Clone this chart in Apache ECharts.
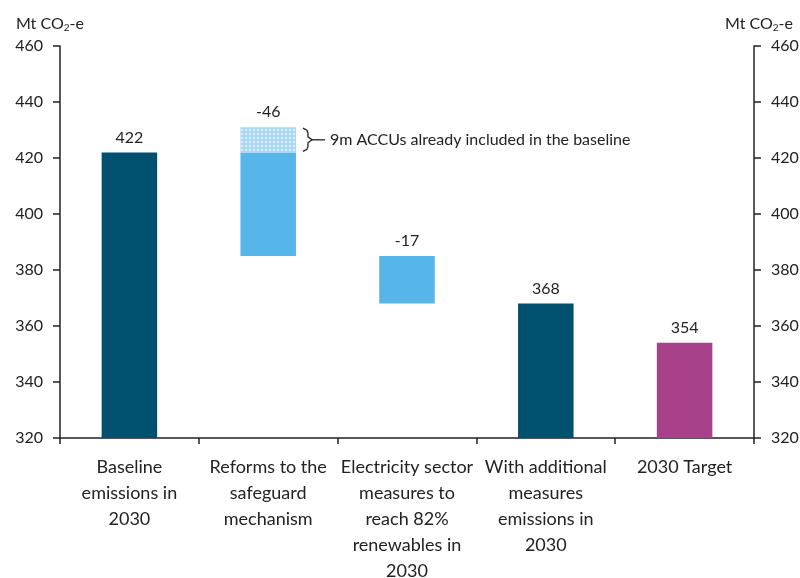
<!DOCTYPE html>
<html>
<head>
<meta charset="utf-8">
<script src="https://cdn.jsdelivr.net/npm/echarts@6/dist/echarts.min.js"></script>
<style>
  html, body { margin: 0; padding: 0; background: #fff; }
  #chart { width: 800px; height: 578px; }
</style>
</head>
<body>
<div id="chart"></div>
<script>
// values (Mt CO2-e)
const categories = [
  'Baseline\nemissions in\n2030',
  'Reforms to the\nsafeguard\nmechanism',
  'Electricity sector\nmeasures to\nreach 82%\nrenewables in\n2030',
  'With additional\nmeasures\nemissions in\n2030',
  '2030 Target'
]
const baseline = 422
const safeguardCut = 46
const accuIncluded = 9
const electricityCut = 17
const withMeasures = 368
const target = 354
const yTicks = [320, 340, 360, 380, 400, 420, 440, 460]
const accuNote = '9m ACCUs already included in the baseline'

const darkBlue = '#02506f'
const lightBlue = '#56b5e9'
const magenta = '#a6418a'
const font = 'Lato'
const ink = '#222'

// waterfall pieces built from the values above
const afterSafeguard = baseline + accuIncluded - safeguardCut
const afterElectricity = afterSafeguard - electricityCut
const base = [0, afterSafeguard, afterElectricity, 0, 0]
const totals = [baseline, 0, 0, withMeasures, 0]
const cuts = [0, baseline - afterSafeguard, electricityCut, 0, 0]
const accu = [0, accuIncluded, 0, 0, 0]
const targets = [0, 0, 0, 0, target]
const cutLabels = ['', '', '-' + electricityCut, '', '']
const accuLabels = ['', '-' + safeguardCut, '', '', '']

const labelStyle = { show: true, position: 'top', color: ink, fontSize: 16, fontFamily: font, distance: 7 }
const barWidth = '40%'

const unitTitle = {
  text: 'Mt CO{sub|2}-e', top: 10,
  textStyle: { fontSize: 16, fontWeight: 'normal', color: ink, fontFamily: font,
    rich: { sub: { fontSize: 10, padding: [8, 0, 0, 0], color: ink, fontFamily: font } } }
}

const yAxisBase = {
  type: 'value', min: yTicks[0], max: yTicks[yTicks.length - 1], interval: 20,
  axisLine: { show: true, lineStyle: { color: ink, width: 1.5 } },
  axisTick: { show: true, length: 7, lineStyle: { color: ink, width: 1.5 } },
  axisLabel: { color: ink, fontSize: 16, margin: 17, fontFamily: font },
  splitLine: { show: false }
}

const chart = echarts.init(document.getElementById('chart'))
chart.setOption({
  animation: false,
  textStyle: { fontFamily: font },
  title: [
    Object.assign({ left: 11 }, unitTitle),
    Object.assign({ right: 2 }, unitTitle)
  ],
  grid: { left: 60, right: 46, top: 46, bottom: 140, containLabel: false, outerBoundsMode: 'none' },
  xAxis: {
    type: 'category',
    data: categories,
    axisLine: { lineStyle: { color: ink, width: 1.5 } },
    axisTick: { show: true, length: 6, lineStyle: { color: ink, width: 1.5 } },
    axisLabel: { color: ink, fontSize: 18, lineHeight: 26, margin: 16, interval: 0, fontFamily: font }
  },
  yAxis: [
    Object.assign({}, yAxisBase),
    Object.assign({ position: 'right' }, yAxisBase)
  ],
  series: [
    {
      type: 'bar', stack: 'w', barWidth: barWidth, data: base,
      itemStyle: { color: 'transparent' }, silent: true
    },
    {
      type: 'bar', stack: 'w', barWidth: barWidth, data: totals,
      itemStyle: { color: darkBlue },
      label: Object.assign({}, labelStyle, { formatter: p => p.value ? String(p.value) : '' })
    },
    {
      type: 'bar', stack: 'w', barWidth: barWidth, data: cuts,
      itemStyle: { color: lightBlue },
      label: Object.assign({}, labelStyle, { formatter: p => cutLabels[p.dataIndex] })
    },
    {
      type: 'bar', stack: 'w', barWidth: barWidth, data: accu,
      itemStyle: {
        color: '#a9d7f3',
        decal: { symbol: 'rect', symbolSize: 0.55, color: 'rgba(255,255,255,0.55)', dashArrayX: [4, 0], dashArrayY: [4, 0], rotation: 0 }
      },
      label: Object.assign({}, labelStyle, { formatter: p => accuLabels[p.dataIndex] })
    },
    {
      type: 'bar', stack: 'w', barWidth: barWidth, data: targets,
      itemStyle: { color: magenta },
      label: Object.assign({}, labelStyle, { formatter: p => p.value ? String(p.value) : '' })
    },
    {
      // bracket + note beside the ACCU part of the safeguard bar
      type: 'custom',
      data: [[1, baseline, baseline + accuIncluded]],
      silent: true,
      z: 5,
      renderItem: function (params, api) {
        const top = api.coord([api.value(0), api.value(2)])
        const bot = api.coord([api.value(0), api.value(1)])
        const half = api.size([1, 0])[0] * 0.2
        const x0 = top[0] + half + 7
        const y0 = top[1] + 1
        const y1 = bot[1] - 1
        const mid = (y0 + y1) / 2
        return {
          type: 'group',
          children: [
            {
              type: 'polyline',
              shape: { points: [
                [x0, y0], [x0 + 4, y0 + 2], [x0 + 5, y0 + 5], [x0 + 5, mid - 3], [x0 + 9, mid],
                [x0 + 5, mid + 3], [x0 + 5, y1 - 5], [x0 + 4, y1 - 2], [x0, y1]
              ] },
              style: { stroke: ink, lineWidth: 1.3, fill: null }
            },
            {
              type: 'line',
              shape: { x1: x0 + 9, y1: mid, x2: x0 + 22, y2: mid },
              style: { stroke: ink, lineWidth: 1.3 }
            },
            {
              type: 'text',
              x: x0 + 27, y: mid,
              style: { text: accuNote, fill: ink, fontSize: 16, fontFamily: font, verticalAlign: 'middle', align: 'left' }
            }
          ]
        }
      }
    }
  ]
})
</script>
</body>
</html>
